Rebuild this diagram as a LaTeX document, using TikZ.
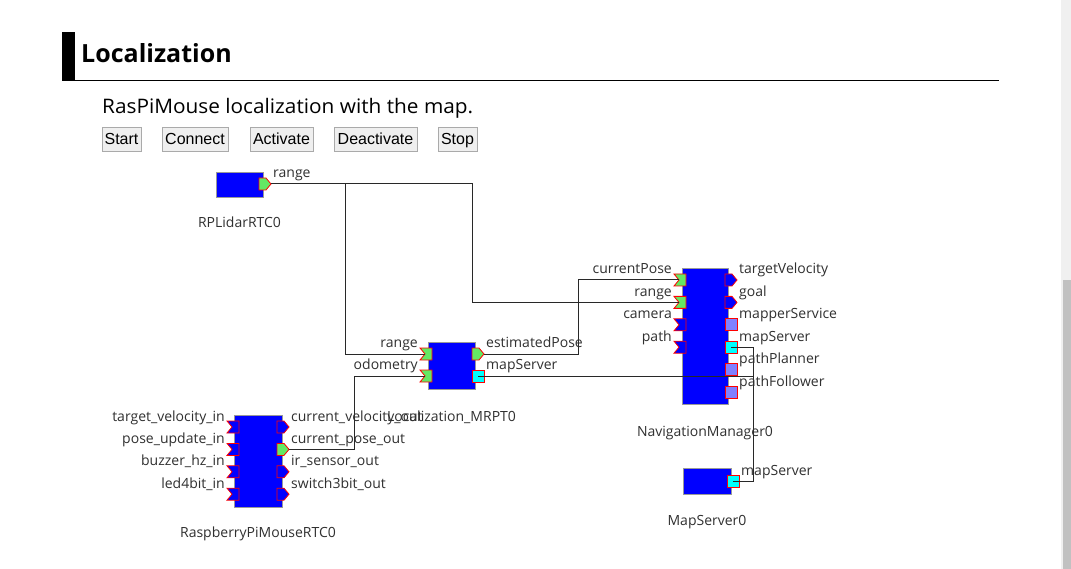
\documentclass[tikz,border=0pt]{standalone}
\usepackage{fontspec}
\setmainfont{Liberation Sans}
\newfontfamily\diagfont{Open Sans}
\newfontfamily\subfont[FakeStretch=1.04]{Open Sans}
\usetikzlibrary{calc}
\definecolor{blockblue}{RGB}{0,0,255}
\definecolor{portgreen}{RGB}{100,232,100}
\definecolor{svcport}{RGB}{128,128,255}
\definecolor{cyanport}{RGB}{0,255,255}
\definecolor{txtgray}{RGB}{48,48,48}
\definecolor{linegray}{RGB}{40,40,40}
\definecolor{btnfill}{RGB}{239,239,239}
\definecolor{btnedge}{RGB}{170,170,170}
\definecolor{trackgray}{RGB}{240,240,240}
\definecolor{thumbgray}{RGB}{193,193,193}
\tikzset{
  block/.style={draw=gray!80, line width=0.8pt, fill=blockblue, inner sep=0pt, outer sep=0pt},
  portnode/.style={minimum width=12pt, minimum height=12pt, inner sep=0pt, outer sep=0pt},
  portedge/.style={draw=red, line width=0.8pt, line join=miter},
  conn/.style={draw=linegray, line width=1pt},
  plabel/.style={font=\diagfont\fontsize{14}{16}\selectfont, text=txtgray, inner sep=0pt},
  cname/.style={font=\diagfont\fontsize{14}{16}\selectfont, text=txtgray, inner sep=0pt, anchor=base},
  btn/.style={draw=btnedge, fill=btnfill, line width=1pt, minimum height=24pt, inner sep=0pt,
    text height=12pt, text depth=3pt, font=\fontsize{16}{18}\selectfont},
}
% ports: name, left x, top y, fill
\newcommand\inportP[4]{%
  \node[portnode] (#1) at (#2+6,#3+6) {};
  \draw[portedge, fill=#4] (#1.north west) -- (#1.north east) -- (#1.south east) -- (#1.south west) -- ([xshift=5pt]#1.west) -- cycle;}
\newcommand\outportP[4]{%
  \node[portnode] (#1) at (#2+6,#3+6) {};
  \draw[portedge, fill=#4] (#1.north west) -- ([xshift=7pt]#1.north west) -- (#1.east) -- ([xshift=7pt]#1.south west) -- (#1.south west) -- cycle;}
\newcommand\svcportP[4]{%
  \node[portnode] (#1) at (#2+6,#3+6) {};
  \draw[portedge, fill=#4] (#1.north west) rectangle (#1.south east);}
\newcommand\leftlab[2]{\node[plabel, anchor=base east] (#1-l) at ([xshift=-2pt]#1.north west) {#2};}
\newcommand\rightlab[2]{\node[plabel, anchor=base west] (#1-l) at ([xshift=2pt]#1.north east) {#2};}
\begin{document}
\begin{tikzpicture}[x=1pt,y=-1pt]
\useasboundingbox (0,0) rectangle (1071,569);
\fill[white] (0,0) rectangle (1071,569);
% scrollbar
\fill[trackgray] (1061,0) rectangle (1071,569);
\fill[thumbgray] (1063,280) rectangle (1071,569);
% heading
\fill[black] (62,32) rectangle (75,81);
\draw[black, line width=1pt] (62,80.5) -- (999,80.5);
\node[anchor=base west, inner sep=0pt, font=\diagfont\fontsize{25}{30}\selectfont\bfseries] (title) at (81,63) {Localization};
\node[anchor=base west, inner sep=0pt, font=\subfont\fontsize{20}{24}\selectfont] (subtitle) at (102,114) {RasPiMouse localization with the map.};
% buttons
\node[btn, minimum width=39pt] (bstart) at (121.5,140) {Start};
\node[btn, minimum width=66pt] (bconnect) at (195,140) {Connect};
\node[btn, minimum width=63pt] (bactivate) at (281.5,140) {Activate};
\node[btn, minimum width=83pt] (bdeactivate) at (375.5,140) {Deactivate};
\node[btn, minimum width=39pt] (bstop) at (457.5,140) {Stop};
% blocks
\node[block, minimum width=47pt, minimum height=25pt] (lidar) at (239.5,184.5) {};
\node[block, minimum width=47pt, minimum height=47pt] (loc) at (451.5,365.5) {};
\node[block, minimum width=46pt, minimum height=136pt] (nav) at (705,336) {};
\node[block, minimum width=48pt, minimum height=26pt] (maps) at (707,481) {};
\node[block, minimum width=48pt, minimum height=92pt] (rpi) at (258,461) {};
% ports
\outportP{lid-r}{259}{178}{portgreen}
\inportP{loc-r}{420}{348}{portgreen}
\inportP{loc-o}{420}{370}{portgreen}
\outportP{loc-e}{472}{348}{portgreen}
\svcportP{loc-m}{472}{370}{cyanport}
\inportP{nav-cp}{674}{274}{portgreen}
\inportP{nav-r}{674}{296.4}{portgreen}
\inportP{nav-c}{674}{318.8}{blockblue}
\inportP{nav-p}{674}{341.2}{blockblue}
\outportP{nav-tv}{725}{274}{blockblue}
\outportP{nav-g}{725}{296.4}{blockblue}
\svcportP{nav-ms}{725}{318.8}{svcport}
\svcportP{nav-m}{725}{341.2}{cyanport}
\svcportP{nav-pp}{725}{363.6}{svcport}
\svcportP{nav-pf}{725}{386}{svcport}
\svcportP{maps-m}{727}{475}{cyanport}
\inportP{rpi-tv}{227}{421}{blockblue}
\inportP{rpi-pu}{227}{443.4}{blockblue}
\inportP{rpi-bz}{227}{465.8}{blockblue}
\inportP{rpi-led}{227}{488.2}{blockblue}
\outportP{rpi-cv}{277}{421}{blockblue}
\outportP{rpi-cp}{277}{443.4}{portgreen}
\outportP{rpi-ir}{277}{465.8}{blockblue}
\outportP{rpi-sw}{277}{488.2}{blockblue}
% connectors
\coordinate (b1) at (345,184);
\coordinate (b2) at (472,184);
\coordinate (b3) at (578,354);
\coordinate (b4) at (354,449.4);
\coordinate (b5) at (753,376);
\coordinate (b6) at (753,481);
\draw[conn] (lid-r.east) -- (b1) |- ([xshift=5pt]loc-r.west);
\draw[conn] (b1) -- (b2) |- ([xshift=5pt]nav-r.west);
\draw[conn] (loc-e.east) -- (b3) |- ([xshift=5pt]nav-cp.west);
\draw[conn] (rpi-cp.east) -- (b4) |- ([xshift=5pt]loc-o.west);
\draw[conn] (loc-m.center) -- (b5) -- (b6) -- (maps-m.center);
\draw[conn] (nav-m.center) -| (b5);
% port labels
\rightlab{lid-r}{range}
\leftlab{loc-r}{range}
\leftlab{loc-o}{odometry}
\rightlab{loc-e}{estimatedPose}
\rightlab{loc-m}{mapServer}
\leftlab{nav-cp}{currentPose}
\leftlab{nav-r}{range}
\leftlab{nav-c}{camera}
\leftlab{nav-p}{path}
\rightlab{nav-tv}{targetVelocity}
\rightlab{nav-g}{goal}
\rightlab{nav-ms}{mapperService}
\rightlab{nav-m}{mapServer}
\rightlab{nav-pp}{pathPlanner}
\rightlab{nav-pf}{pathFollower}
\rightlab{maps-m}{mapServer}
\leftlab{rpi-tv}{target\_velocity\_in}
\leftlab{rpi-pu}{pose\_update\_in}
\leftlab{rpi-bz}{buzzer\_hz\_in}
\leftlab{rpi-led}{led4bit\_in}
\rightlab{rpi-cv}{current\_velocity\_out}
\rightlab{rpi-cp}{current\_pose\_out}
\rightlab{rpi-ir}{ir\_sensor\_out}
\rightlab{rpi-sw}{switch3bit\_out}
% component names
\node[cname] (lidar-n) at ([yshift=-31pt]lidar.south) {RPLidarRTC0};
\node[cname] (loc-n) at ([yshift=-32pt]loc.south) {Localization\_MRPT0};
\node[cname] (nav-n) at ([yshift=-32pt]nav.south) {NavigationManager0};
\node[cname] (maps-n) at ([yshift=-31pt]maps.south) {MapServer0};
\node[cname] (rpi-n) at ([yshift=-30pt]rpi.south) {RaspberryPiMouseRTC0};
\end{tikzpicture}
\end{document}
